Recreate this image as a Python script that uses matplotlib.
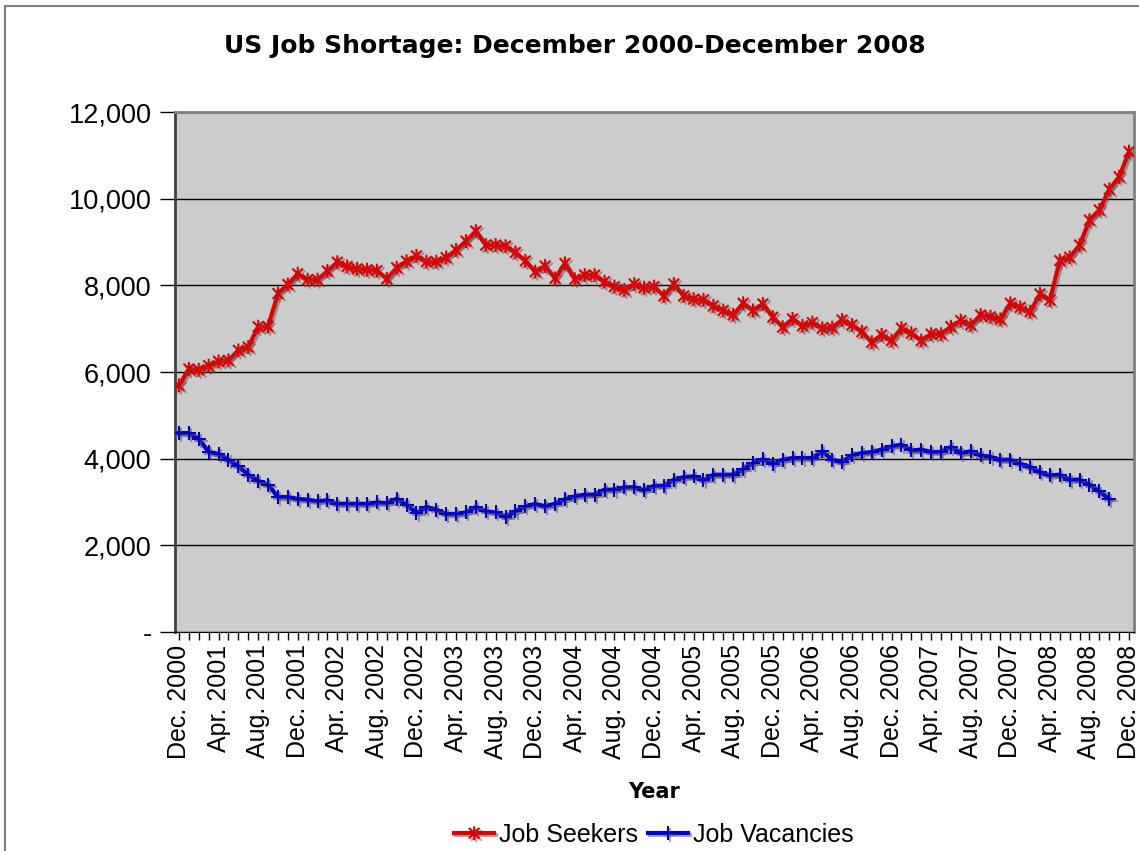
"""US job shortage chart: job seekers vs job vacancies, Dec 2000 - Dec 2008."""

import matplotlib

matplotlib.use("Agg")
import matplotlib.patheffects as pe
import matplotlib.pyplot as plt
from matplotlib.patches import Rectangle
from matplotlib.path import Path
from matplotlib.ticker import FuncFormatter

# monthly values (thousands), Dec 2000 .. Dec 2008
job_seekers = [
    5690, 6070, 6050, 6145, 6245, 6270, 6500, 6575, 7045, 7050, 7810, 8020,
    8265, 8130, 8130, 8330, 8535, 8435, 8380, 8360, 8340, 8150, 8405, 8555,
    8680, 8546, 8546, 8640, 8815, 9020, 9250, 8930, 8930, 8905, 8760, 8565,
    8315, 8445, 8160, 8505, 8140, 8235, 8235, 8085, 7970, 7895, 8030, 7945,
    7970, 7755, 8030, 7755, 7680, 7665, 7525, 7420, 7320, 7585, 7420, 7570,
    7265, 7035, 7225, 7065, 7140, 7010, 7025, 7200, 7085, 6930, 6685, 6855,
    6725, 7010, 6895, 6725, 6875, 6875, 7045, 7185, 7085, 7315, 7275, 7215,
    7585, 7490, 7390, 7800, 7660, 8570, 8645, 8930, 9505, 9740, 10215, 10505,
    11085,
]
job_vacancies = [
    4590, 4590, 4455, 4155, 4110, 3975, 3825, 3630, 3490, 3400, 3115, 3115,
    3070, 3055, 3015, 3040, 2960, 2960, 2960, 2955, 2990, 2975, 3075, 2940,
    2745, 2885, 2825, 2725, 2725, 2760, 2885, 2785, 2760, 2655, 2785, 2900,
    2955, 2900, 2960, 3070, 3130, 3170, 3170, 3285, 3285, 3340, 3340, 3270,
    3375, 3375, 3515, 3575, 3590, 3500, 3630, 3630, 3630, 3760, 3900, 3990,
    3885, 3975, 4015, 4015, 4015, 4170, 3975, 3925, 4075, 4130, 4155, 4210,
    4285, 4325, 4190, 4210, 4155, 4155, 4270, 4130, 4170, 4075, 4040, 3975,
    3975, 3885, 3810, 3685, 3615, 3630, 3515, 3515, 3400, 3245, 3070,
]
tick_months = ["Dec.", "Apr.", "Aug."]
first_year = 2000

months = list(range(len(job_seekers)))
labels = []
for m in months:
    if m % 4 == 0:
        labels.append(f"{tick_months[(m // 4) % 3]} {first_year + (m + 11) // 12}")
    else:
        labels.append("")

# Excel-style star marker: an X with a vertical bar
star = Path(
    [(-1, -1), (1, 1), (-1, 1), (1, -1), (0, -1.3), (0, 1.3)],
    [Path.MOVETO, Path.LINETO, Path.MOVETO, Path.LINETO, Path.MOVETO, Path.LINETO],
)
shadow = [pe.SimpleLineShadow(offset=(1.5, -1.5), shadow_color="#555555", alpha=0.5), pe.Normal()]

fig = plt.figure(figsize=(11.39, 8.51), dpi=100)
ax = fig.add_axes([175 / 1139, 1 - 632 / 851, (1134 - 175) / 1139, (632 - 112) / 851])
ax.set_facecolor("#CCCCCC")

ax.plot(months, job_seekers, color="#E00000", lw=3, marker=star, ms=10, mew=1.5,
        mfc="none", mec="#E00000", label="Job Seekers", path_effects=shadow, zorder=3)
ax.plot(months[:len(job_vacancies)], job_vacancies, color="#0000D0", lw=3, marker="+",
        ms=10, mew=1.5, mec="#0000D0", label="Job Vacancies", path_effects=shadow, zorder=3)

ax.set_xlim(-0.4, 96.5)
ax.set_ylim(0, 12000)
ax.set_yticks(range(0, 12001, 2000))
ax.yaxis.set_major_formatter(FuncFormatter(lambda v, _: "-" if v == 0 else f"{int(v):,}"))
ax.set_xticks(months)
ax.set_xticklabels(labels, rotation=90, fontsize=18, family="Liberation Sans")
for t in ax.get_yticklabels():
    t.set_fontsize(19.5)
    t.set_family("Liberation Sans")
ax.tick_params(axis="x", direction="out", length=6, width=1, pad=3)
ax.tick_params(axis="y", direction="out", length=11, width=1, pad=6)
ax.grid(axis="y", color="black", lw=1)
ax.set_axisbelow(True)

for side in ["top", "right"]:
    ax.spines[side].set_color("#808080")
    ax.spines[side].set_linewidth(2)
ax.spines["left"].set_color("#404040")
ax.spines["left"].set_linewidth(2)
ax.spines["bottom"].set_color("black")

ax.set_xlabel("Year", fontsize=15, fontweight="bold", family="DejaVu Sans", labelpad=17)
fig.text(0.505, 0.946, "US Job Shortage: December 2000-December 2008", ha="center",
         va="center", fontsize=18, fontweight="bold", family="DejaVu Sans")

leg = fig.legend(loc="center", bbox_to_anchor=(654 / 1139, 1 - 835 / 851), ncol=2, frameon=False,
                 prop={"family": "Liberation Sans", "size": 18}, handlelength=1.6,
                 handletextpad=0.2, columnspacing=0.4)

# outer chart border (only top/left edges fall inside the image)
fig.patches.append(Rectangle((5 / 1139, -0.1), 1.2, 1 - 6 / 851 + 0.1, transform=fig.transFigure,
                             fill=False, edgecolor="#808080", lw=1.5))

fig.savefig("out.png", dpi=100)
